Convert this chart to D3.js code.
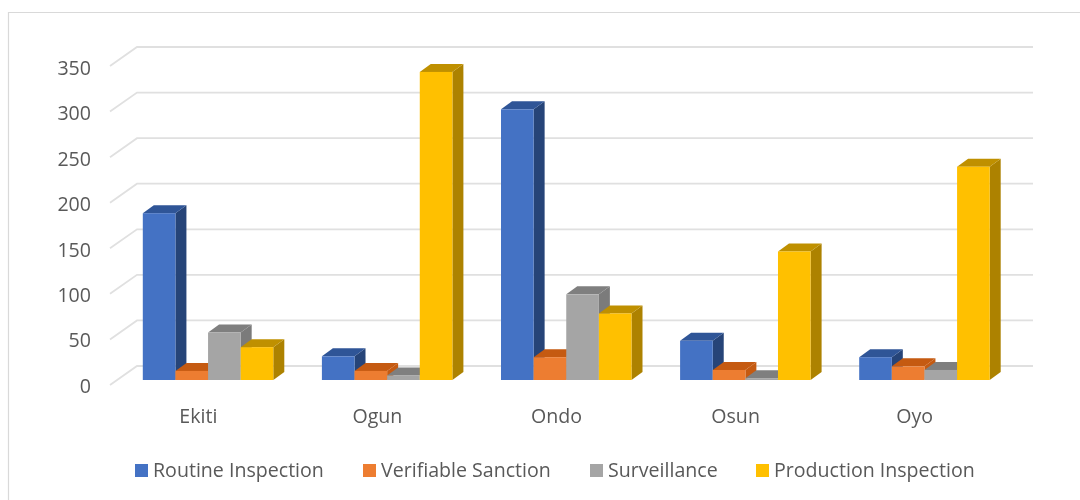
<!DOCTYPE html>
<html><head><meta charset="utf-8">
<script src="https://cdn.jsdelivr.net/npm/d3@7"></script>
<style>html,body{margin:0;padding:0;background:#fff;overflow:hidden}svg{display:block;filter:blur(0.45px)}text{font-family:"Open Sans","Noto Sans",sans-serif;fill:#595959}</style>
</head><body><svg id="c" width="1080" height="500"></svg>
<script>
const categories=["Ekiti","Ogun","Ondo","Osun","Oyo"];
const seriesNames=["Routine Inspection","Verifiable Sanction","Surveillance","Production Inspection"];
const routine=[183,26,297,43,25];
const sanction=[10,10,25,11,15];
const surveillance=[52,5,94,2,11];
const production=[36,338,73,141,234];
const yTicks=[0,50,100,150,200,250,300,350];
const frontColors=["#4472c4","#ed7d31","#a5a5a5","#ffc000"];
const topColors=["#2f5597","#c55a11","#7f7f7f","#bf9000"];
const sideColors=["#264478","#c55a11","#7b7b7b","#ad8200"];
const legendX=[135,363,590,756];
const seriesValues=[routine,sanction,surveillance,production];

const svg=d3.select("#c");
svg.append("path").attr("fill","none").attr("stroke","#d9d9d9").attr("stroke-width",1.2).attr("d","M1080,12.5H8.5V500");

const y=d3.scaleLinear().domain([0,350]).range([380,61]);
const x0=d3.scaleBand().domain(categories).range([118.5,1014]);
const x1=d3.scaleBand().domain(d3.range(4)).range([0,130.5]);
const bandPad=(x0.bandwidth()-x1.range()[1])/2;
const dx=11,dy=8;
const wall={dx:27,dy:19,ox:-8,oy:5};

const g=svg.append("g");
g.selectAll("path.grid").data(yTicks).join("path").attr("class","grid")
 .attr("fill","none").attr("stroke","#e0e0e0").attr("stroke-width",1.8)
 .attr("d",t=>{const yf=y(t)+wall.oy;const xl=110;return `M${xl},${yf}L${xl+wall.dx},${yf-wall.dy}L1033,${yf-wall.dy}`;});

g.selectAll("text.ytick").data(yTicks).join("text").attr("class","ytick")
 .attr("x",91).attr("y",t=>y(t)+6+(t/350)).attr("dy","0.35em").attr("text-anchor","end").attr("font-size",19.6).text(t=>t);

categories.forEach((c,i)=>{
  const bx=x0(c)+bandPad;
  seriesValues.forEach((vals,s)=>{
    const l=bx+x1(s),w=x1.bandwidth(),r=l+w,t=y(vals[i]),b=y(0);
    const bar=g.append("g");
    bar.append("path").attr("fill",sideColors[s]).attr("d",`M${r},${t}L${r+dx},${t-dy}L${r+dx},${b-dy}L${r},${b}Z`);
    bar.append("path").attr("fill",topColors[s]).attr("d",`M${l},${t}L${l+dx},${t-dy}L${r+dx},${t-dy}L${r},${t}Z`);
    bar.append("rect").attr("x",l).attr("y",t).attr("width",w).attr("height",b-t).attr("fill",frontColors[s]);
  });
  g.append("text").attr("x",bx+55.5).attr("y",416).attr("dy","0.35em").attr("text-anchor","middle").attr("font-size",19.6).text(c);
});

seriesNames.forEach((n,s)=>{
  g.append("rect").attr("x",legendX[s]).attr("y",464).attr("width",13).attr("height",13).attr("fill",frontColors[s]);
  g.append("text").attr("x",legendX[s]+18).attr("y",470).attr("dy","0.35em").attr("font-size",19.6).text(n);
});
</script></body></html>
